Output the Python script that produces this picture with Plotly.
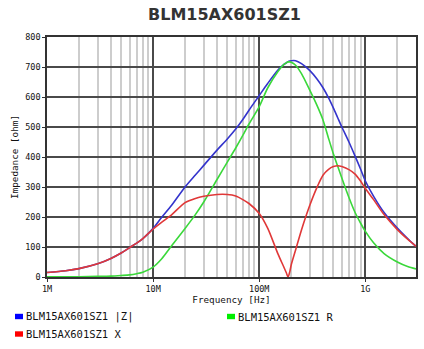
import plotly.graph_objects as go

# ---- data ----
freq_mhz = [1, 1.5, 2, 3, 4, 5, 6, 7, 8, 10, 12, 15, 20, 25, 30, 40, 50, 60, 70, 80,
            100, 120, 150, 170, 180, 187, 194, 200, 220, 250, 300, 350, 400, 450, 500,
            550, 600, 700, 800, 900, 1000, 1200, 1500, 2000, 2500, 3000]

z_abs = [15, 21, 28, 44, 62, 80, 98, 113, 128, 162, 198, 240, 300, 340, 372, 423, 460, 493, 525, 556,
         605, 645, 690, 708, 714, 718, 720, 721, 721, 711, 688, 660, 630, 597, 563,
         530, 500, 450, 403, 360, 320, 268, 215, 163, 128, 102]

x_react = [15, 21, 28, 44, 62, 80, 98, 113, 128, 160, 182, 208, 248, 262, 269, 275, 275, 270, 258, 245,
           212, 163, 77, 34, 14, 0, 18, 40, 90, 157, 240, 299, 340, 359, 368,
           371, 368, 358, 343, 320, 295, 257, 208, 158, 126, 102]

r_res = [1, 1, 1, 2, 3, 5, 7, 11, 16, 33, 60, 105, 162, 208, 250, 325, 383, 430, 472, 510,
         568, 630, 685, 708, 714, 717, 717, 716, 706, 678, 622, 572, 522, 462, 410,
         368, 330, 265, 215, 180, 152, 113, 78, 50, 35, 27]

x_tick_vals = [1e6, 1e7, 1e8, 1e9]
x_tick_text = ["1M", "10M", "100M", "1G"]
y_tick_vals = [0, 100, 200, 300, 400, 500, 600, 700, 800]

series_names = ["BLM15AX601SZ1 |Z|", "BLM15AX601SZ1 R", "BLM15AX601SZ1 X"]
line_colors = ["#3434cc", "#3ad83a", "#e03838"]
legend_colors = ["#0000ff", "#00ee00", "#ff0000"]

freq_hz = [f * 1e6 for f in freq_mhz]

W, H = 424, 349
L, R, T, B = 47, 416, 37, 277


def px(x):
    return (x - L) / (R - L)


def py(y):
    return (B - y) / (B - T)


fig = go.Figure()
for name, vals, col in zip(series_names, [z_abs, r_res, x_react], line_colors):
    fig.add_trace(go.Scatter(x=freq_hz, y=vals, mode="lines", name=name,
                             line=dict(color=col, width=1.6, shape="spline", smoothing=0.8),
                             showlegend=False))

minor_vals = [k * 10 ** e for e in range(6, 10) for k in range(2, 10) if k * 10 ** e <= 3.0e9]

tick_font = dict(family="DejaVu Sans Mono", size=8.5, color="#111")
fig.update_xaxes(type="log", range=[6, 9.477], tickvals=x_tick_vals, ticktext=x_tick_text,
                 showgrid=True, gridcolor="#4a4a4a", gridwidth=1.5,
                 minor=dict(tickvals=minor_vals, showgrid=True, gridcolor="#cdcdcd", gridwidth=1.5),
                 showline=True, linecolor="#333", linewidth=1.5, mirror=True,
                 ticks="outside", ticklen=3, tickcolor="#333", tickfont=tick_font,
                 zeroline=False, automargin=False,
                 title=dict(text="Frequency [Hz]", standoff=3,
                            font=dict(family="DejaVu Sans Mono", size=9.3, color="#111")))
fig.update_yaxes(range=[0, 800], tickvals=y_tick_vals,
                 showgrid=True, gridcolor="#4a4a4a", gridwidth=1.5,
                 showline=True, linecolor="#333", linewidth=1.5, mirror=True,
                 ticks="outside", ticklen=3, tickcolor="#333", tickfont=tick_font,
                 zeroline=False, automargin=False,
                 title=dict(text="Impedance [ohm]", standoff=5,
                            font=dict(family="DejaVu Sans Mono", size=9.3, color="#111")))

# legend drawn as coloured squares + text
legend_pos = [(15, 316.5), (227, 316.5), (15, 334)]
shapes = []
annotations = []
for (lx, ly), name, col in zip(legend_pos, series_names, legend_colors):
    shapes.append(dict(type="rect", xref="paper", yref="paper",
                       x0=px(lx), x1=px(lx + 8), y0=py(ly + 2.7), y1=py(ly - 2.7),
                       fillcolor=col, line=dict(width=0)))
    annotations.append(dict(xref="paper", yref="paper", x=px(lx + 8.5), y=py(ly),
                            xanchor="left", yanchor="middle", showarrow=False, text=name,
                            font=dict(family="DejaVu Sans Mono", size=10.5, color="#111")))

fig.update_layout(
    width=W, height=H,
    margin=dict(l=L, r=W - R, t=T, b=H - B, autoexpand=False),
    paper_bgcolor="white", plot_bgcolor="white",
    title=dict(text="<b>BLM15AX601SZ1</b>", x=224.5 / W, xanchor="center", xref="container",
               y=1 - 14.5 / H, yanchor="middle", yref="container",
               font=dict(family="DejaVu Sans", size=16, color="#333")),
    shapes=shapes, annotations=annotations,
    showlegend=False,
)

fig.write_html("out.html", config={"displayModeBar": False},
               post_script="document.body.style.margin='0';document.body.style.padding='0';")
